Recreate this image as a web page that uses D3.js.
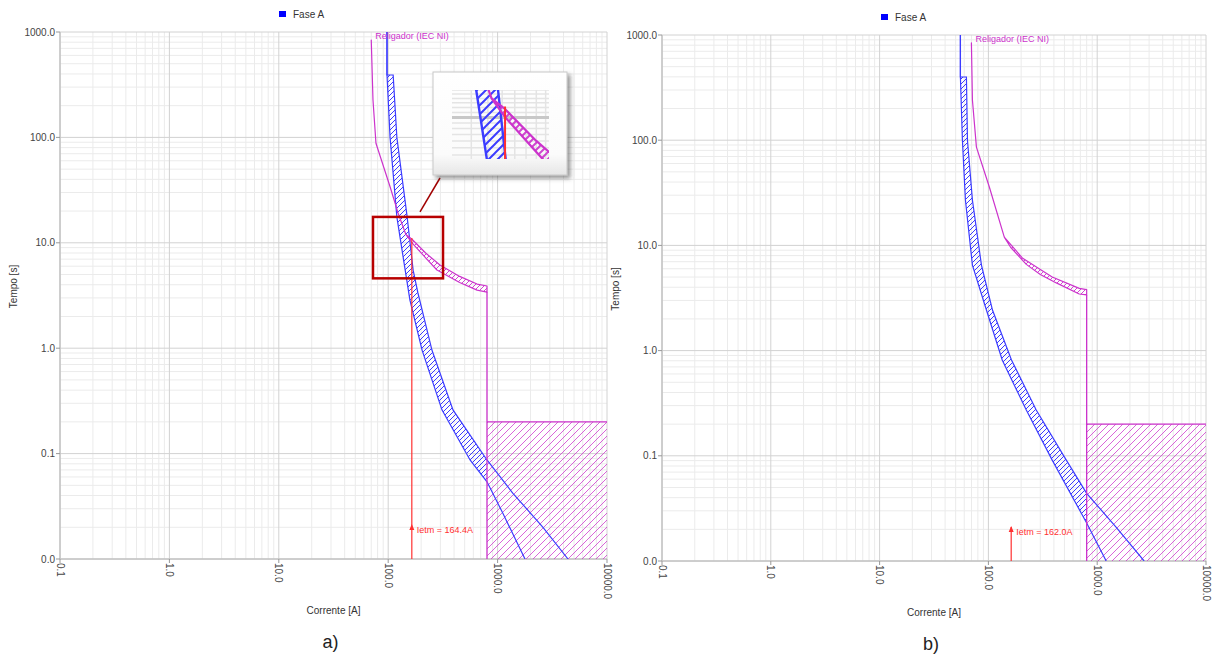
<!DOCTYPE html>
<html>
<head>
<meta charset="utf-8">
<script src="https://cdn.jsdelivr.net/npm/d3@7/dist/d3.min.js"></script>
<style>
  body { margin: 0; background: #fff; }
  svg { display: block; font-family: "Liberation Sans", Arial, sans-serif; }
</style>
</head>
<body>
<div id="chart"></div>
<script>
// axis tick values (log scales)
const currentTicks = [0.1, 1, 10, 100, 1000, 10000];
const timeTicks = [0.01, 0.1, 1, 10, 100, 1000];

// Fase A band, panel a)  [current A, time s]
const faseA_a_min = [[97.5,1000],[97.5,391],[104,100],[120,17.6],[143,5.5],[158,2.86],[204,0.96],[310,0.26],[560,0.087],[800,0.054],[1120,0.027],[1780,0.01]];
const faseA_a_max = [[97.5,1000],[97.5,391],[111,391],[120,100],[149,17.6],[169,5.5],[187,3.34],[251,0.96],[391,0.26],[800,0.087],[1380,0.042],[2600,0.020],[4400,0.01]];

// Fase A band, panel b)
const faseA_b_min = [[55.3,1000],[55.3,399],[57.7,100],[61.5,27],[71.3,6.5],[95.9,2.43],[134,0.815],[223,0.272],[386,0.091],[800,0.023],[1210,0.01]];
const faseA_b_max = [[55.3,1000],[55.3,399],[62.8,399],[64.2,100],[71.3,27],[86.3,6.5],[109,2.43],[163,0.815],[275,0.272],[520,0.091],[800,0.044],[1490,0.021],[2700,0.01]];

// Religador (IEC NI) curves
const religador_a_max = [[70,840],[72.6,226],[77.3,88],[104,34],[123,19.2],[145,12.0],[165,10.8],[220,8.0],[297,6.15],[450,4.8],[649,4.06],[800,3.89]];
const religador_a_min = [[70,840],[72.6,226],[77.3,88],[104,34],[123,19.2],[145,12.0],[165,10.0],[220,7.2],[279,5.52],[450,4.2],[649,3.56],[800,3.41]];
const religador_b_max = [[69.8,840],[71.3,241],[77.6,86],[102,35.9],[140,12.0],[205,7.6],[300,5.9],[386,5.0],[684,3.9],[800,3.8]];
const religador_b_min = [[69.8,840],[71.3,241],[77.6,86],[102,35.9],[140,12.0],[160,9.6],[223,6.6],[300,5.3],[421,4.4],[684,3.45],[800,3.38]];

// instantaneous element: current and time of the box
const instCurrent = [800, 10000];
const instTime = [0.01, 0.2];

// Ietm markers
const ietmValue = [164.4, 162.0];
const ietmTop = [11.1, 0.021];
const ietmArrow = [0.021, 0.021];

// zoom region shown in panel a) and the inset range
const zoomCurrent = [72.6, 317];
const zoomTime = [4.6, 17.6];
const insetCurrent = [108, 250];
const insetTime = [6.8, 13];

const BLUE = "#3c3cff";
const MAG = "#cc33cc";
const RED = "#ff3030";

const W = 1216, H = 657;

let svg = d3.select("#chart")
    .append("svg")
    .attr("width", W)
    .attr("height", H);

let defs = svg.append("defs");

function makeHatch(id, color, s, w, op) {
    defs.append("pattern")
        .attr("id", id)
        .attr("width", s)
        .attr("height", s)
        .attr("patternUnits", "userSpaceOnUse")
        .append("path")
        .attr("d", `M0,${s} L${s},0 M-1,1 L1,-1 M${s-1},${s+1} L${s+1},${s-1}`)
        .attr("stroke", color)
        .attr("stroke-width", w)
        .attr("stroke-opacity", op);
}
makeHatch("hBlue", BLUE, 5, 1, 1);
makeHatch("hMag", MAG, 5, 1, 0.9);
makeHatch("hBox", MAG, 7, 1, 0.75);
makeHatch("hBlueBig", BLUE, 9, 2, 1);
makeHatch("hMagBig", MAG, 7, 2, 0.9);

let shadow = defs.append("filter").attr("id", "shadow")
    .attr("x", "-10%").attr("y", "-10%").attr("width", "130%").attr("height", "130%");
shadow.append("feDropShadow")
    .attr("dx", 3).attr("dy", 3).attr("stdDeviation", 2)
    .attr("flood-color", "#444").attr("flood-opacity", 0.55);

let grad = defs.append("linearGradient").attr("id", "insetGrad")
    .attr("x1", 0).attr("y1", 0).attr("x2", 0).attr("y2", 1);
grad.append("stop").attr("offset", "0%").attr("stop-color", "#ffffff");
grad.append("stop").attr("offset", "80%").attr("stop-color", "#fbfbfb");
grad.append("stop").attr("offset", "100%").attr("stop-color", "#e6e6e6");

// draw the curves of one set of data with given scales
function drawCurves(g, x, y, d, big) {
    let line = d3.line().x(p => x(p[0])).y(p => y(p[1]));
    let bandPath = (a, b) => line(a.concat(b.slice().reverse())) + "Z";

    // instantaneous box
    if (!big) {
        g.append("rect")
            .attr("x", x(instCurrent[0]))
            .attr("y", y(instTime[1]))
            .attr("width", x(instCurrent[1]) - x(instCurrent[0]))
            .attr("height", y(instTime[0]) - y(instTime[1]))
            .attr("fill", "url(#hBox)");
        g.append("path")
            .attr("d", line([[instCurrent[1], instTime[1]], [instCurrent[0], instTime[1]]]))
            .attr("stroke", MAG).attr("stroke-width", 1.3).attr("fill", "none");
    }

    // Fase A band, hatch only left of the instantaneous current
    let clipId = "clipBlue" + d.id + (big ? "big" : "");
    defs.append("clipPath").attr("id", clipId)
        .append("rect")
        .attr("x", 0).attr("y", 0)
        .attr("width", x(instCurrent[0]))
        .attr("height", H);
    g.append("path")
        .attr("d", bandPath(d.blueMin, d.blueMax))
        .attr("fill", big ? "url(#hBlueBig)" : "url(#hBlue)")
        .attr("clip-path", `url(#${clipId})`);
    [d.blueMin, d.blueMax].forEach(function (edge) {
        g.append("path")
            .attr("d", line(edge))
            .attr("stroke", BLUE)
            .attr("stroke-width", big ? 2.4 : 1.2)
            .attr("fill", "none");
    });

    // religador band
    g.append("path")
        .attr("d", bandPath(d.magMax, d.magMin))
        .attr("fill", big ? "url(#hMagBig)" : "url(#hMag)")
        .attr("stroke", MAG)
        .attr("stroke-width", big ? 2.2 : 1.2)
        .attr("stroke-linejoin", "round");
    let last = d.magMin[d.magMin.length - 1];
    g.append("path")
        .attr("d", line([last, [last[0], instTime[0]]]))
        .attr("stroke", MAG).attr("stroke-width", 1.3).attr("fill", "none");

    // Ietm line
    g.append("line")
        .attr("x1", x(d.ietm)).attr("x2", x(d.ietm))
        .attr("y1", y(d.ietmTop)).attr("y2", y(timeTicks[0]))
        .attr("stroke", RED)
        .attr("stroke-width", big ? 2 : 1.2);
}

function drawPanel(p) {
    let x = d3.scaleLog().domain([currentTicks[0], currentTicks[currentTicks.length - 1]]).range([p.left, p.right]);
    let y = d3.scaleLog().domain([timeTicks[0], timeTicks[timeTicks.length - 1]]).range([p.bottom, p.top]);
    let g = svg.append("g");

    let isMajor = v => Math.abs(Math.log10(v) - Math.round(Math.log10(v))) < 1e-6;

    // minor grid
    g.selectAll(null).data(x.ticks().filter(v => !isMajor(v))).enter()
        .append("line")
        .attr("x1", v => x(v)).attr("x2", v => x(v))
        .attr("y1", p.top).attr("y2", p.bottom)
        .attr("stroke", "#ebebeb");
    g.selectAll(null).data(y.ticks().filter(v => !isMajor(v))).enter()
        .append("line")
        .attr("y1", v => y(v)).attr("y2", v => y(v))
        .attr("x1", p.left).attr("x2", p.right)
        .attr("stroke", "#ebebeb");
    // major grid
    g.selectAll(null).data(currentTicks).enter()
        .append("line")
        .attr("x1", v => x(v)).attr("x2", v => x(v))
        .attr("y1", p.top).attr("y2", p.bottom)
        .attr("stroke", "#d2d2d2");
    g.selectAll(null).data(timeTicks).enter()
        .append("line")
        .attr("y1", v => y(v)).attr("y2", v => y(v))
        .attr("x1", p.left).attr("x2", p.right)
        .attr("stroke", "#d2d2d2");

    // axes
    g.append("line").attr("x1", p.left).attr("x2", p.left).attr("y1", p.top).attr("y2", p.bottom)
        .attr("stroke", "#c4c4c4").attr("stroke-width", 1.5);
    g.append("line").attr("x1", p.left).attr("x2", p.right).attr("y1", p.bottom).attr("y2", p.bottom)
        .attr("stroke", "#c4c4c4").attr("stroke-width", 1.5);

    let fmt = d3.format(".1f");
    g.selectAll(null).data(timeTicks).enter()
        .append("line")
        .attr("x1", p.left - 4).attr("x2", p.left)
        .attr("y1", v => y(v)).attr("y2", v => y(v))
        .attr("stroke", "#999");
    g.selectAll(null).data(timeTicks).enter()
        .append("text")
        .attr("x", p.left - 5)
        .attr("y", v => y(v))
        .attr("dy", "0.35em")
        .attr("text-anchor", "end")
        .style("font-size", "10px")
        .attr("fill", "#444")
        .text(v => fmt(v));
    g.selectAll(null).data(currentTicks).enter()
        .append("line")
        .attr("x1", v => x(v)).attr("x2", v => x(v))
        .attr("y1", p.bottom).attr("y2", p.bottom + 4)
        .attr("stroke", "#999");
    g.selectAll(null).data(currentTicks).enter()
        .append("text")
        .attr("transform", v => "translate(" + x(v) + "," + (p.bottom + 4) + ") rotate(90)")
        .attr("dy", "0.35em")
        .style("font-size", "10px")
        .attr("fill", "#444")
        .text(v => fmt(v));

    // axis titles
    g.append("text")
        .attr("transform", "translate(" + (p.left - 43) + "," + ((p.top + p.bottom) / 2 - 9) + ") rotate(-90)")
        .attr("text-anchor", "middle")
        .style("font-size", "10px")
        .attr("fill", "#333")
        .text("Tempo [s]");
    g.append("text")
        .attr("x", (p.left + p.right) / 2)
        .attr("y", p.bottom + 55)
        .attr("text-anchor", "middle")
        .style("font-size", "10px")
        .attr("fill", "#333")
        .text("Corrente [A]");

    // legend
    g.append("rect")
        .attr("x", p.left + 219).attr("y", p.top - 21)
        .attr("width", 7).attr("height", 6)
        .attr("fill", "#0000ff");
    g.append("text")
        .attr("x", p.left + 233).attr("y", p.top - 18)
        .attr("dy", "0.35em")
        .style("font-size", "10px")
        .attr("fill", "#333")
        .text("Fase A");

    // curves, clipped to the plot area
    let clipId = "plot" + p.id;
    defs.append("clipPath").attr("id", clipId)
        .append("rect")
        .attr("x", p.left).attr("y", p.top)
        .attr("width", p.right - p.left).attr("height", p.bottom - p.top);
    let cg = g.append("g").attr("clip-path", `url(#${clipId})`);
    drawCurves(cg, x, y, p, false);

    // Religador label
    g.append("text")
        .attr("x", x(p.magMax[0][0]) + 4)
        .attr("y", y(p.magMax[0][1]) - 1)
        .style("font-size", "9px")
        .attr("fill", MAG)
        .text("Religador (IEC NI)");

    // Ietm arrow + label
    let ax = x(p.ietm), ay = y(p.ietmArrow);
    g.append("path")
        .attr("d", `M${ax},${ay - 1} L${ax - 2.5},${ay + 5} L${ax + 2.5},${ay + 5} Z`)
        .attr("fill", RED);
    g.append("text")
        .attr("x", ax + 5)
        .attr("y", ay + 5)
        .attr("dy", "0.35em")
        .style("font-size", "9px")
        .attr("fill", RED)
        .text("Ietm = " + fmt(p.ietm) + "A");

    // caption
    g.append("text")
        .attr("x", (p.left + p.right) / 2 - 3)
        .attr("y", p.captionY)
        .attr("text-anchor", "middle")
        .style("font-size", "18px")
        .attr("fill", "#222")
        .text(p.caption);

    if (p.zoom) drawZoom(g, x, y, p);
}

function drawZoom(g, x, y, p) {
    let bx0 = x(zoomCurrent[0]), bx1 = x(zoomCurrent[1]);
    let by0 = y(zoomTime[1]), by1 = y(zoomTime[0]);

    // inset frame
    const ix = 433, iy = 72, iw = 134, ih = 103;
    g.append("line")
        .attr("x1", (bx0 + bx1) / 2 + 12).attr("y1", by0 - 5)
        .attr("x2", ix + 7).attr("y2", iy + ih + 3)
        .attr("stroke", "#a00000").attr("stroke-width", 1.5);
    g.append("rect")
        .attr("x", ix).attr("y", iy).attr("width", iw).attr("height", ih)
        .attr("fill", "url(#insetGrad)")
        .attr("stroke", "#c8c8c8")
        .attr("filter", "url(#shadow)");

    let sx = d3.scaleLog().domain(insetCurrent).range([460, 550]);
    let sy = d3.scaleLog().domain(insetTime).range([158, 90]);
    defs.append("clipPath").attr("id", "insetClip")
        .append("rect").attr("x", 452).attr("y", 90).attr("width", 97).attr("height", 69);
    let ig = g.append("g").attr("clip-path", "url(#insetClip)");
    ig.selectAll(null).data(sy.ticks().filter(v => v !== 10)).enter()
        .append("line")
        .attr("x1", 452).attr("x2", 549)
        .attr("y1", v => sy(v)).attr("y2", v => sy(v))
        .attr("stroke", "#e4e4e4").attr("stroke-width", 1.5);
    ig.selectAll(null).data(sx.ticks()).enter()
        .append("line")
        .attr("y1", 90).attr("y2", 159)
        .attr("x1", v => sx(v)).attr("x2", v => sx(v))
        .attr("stroke", "#e4e4e4").attr("stroke-width", 1.5);
    ig.append("line")
        .attr("x1", 452).attr("x2", 549)
        .attr("y1", sy(10)).attr("y2", sy(10))
        .attr("stroke", "#c8c8c8").attr("stroke-width", 3);
    drawCurves(ig, sx, sy, p, true);

    // zoom box
    g.append("rect")
        .attr("x", bx0).attr("y", by0)
        .attr("width", bx1 - bx0).attr("height", by1 - by0)
        .attr("fill", "none")
        .attr("stroke", "#b80000")
        .attr("stroke-width", 2.5);
}

drawPanel({
    id: "a", left: 60, right: 607, top: 32, bottom: 559, captionY: 648, caption: "a)",
    blueMin: faseA_a_min, blueMax: faseA_a_max,
    magMax: religador_a_max, magMin: religador_a_min,
    ietm: ietmValue[0], ietmTop: ietmTop[0], ietmArrow: ietmArrow[0],
    zoom: true
});
drawPanel({
    id: "b", left: 662, right: 1206, top: 35, bottom: 561, captionY: 650, caption: "b)",
    blueMin: faseA_b_min, blueMax: faseA_b_max,
    magMax: religador_b_max, magMin: religador_b_min,
    ietm: ietmValue[1], ietmTop: ietmTop[1], ietmArrow: ietmArrow[1],
    zoom: false
});
</script>
</body>
</html>
